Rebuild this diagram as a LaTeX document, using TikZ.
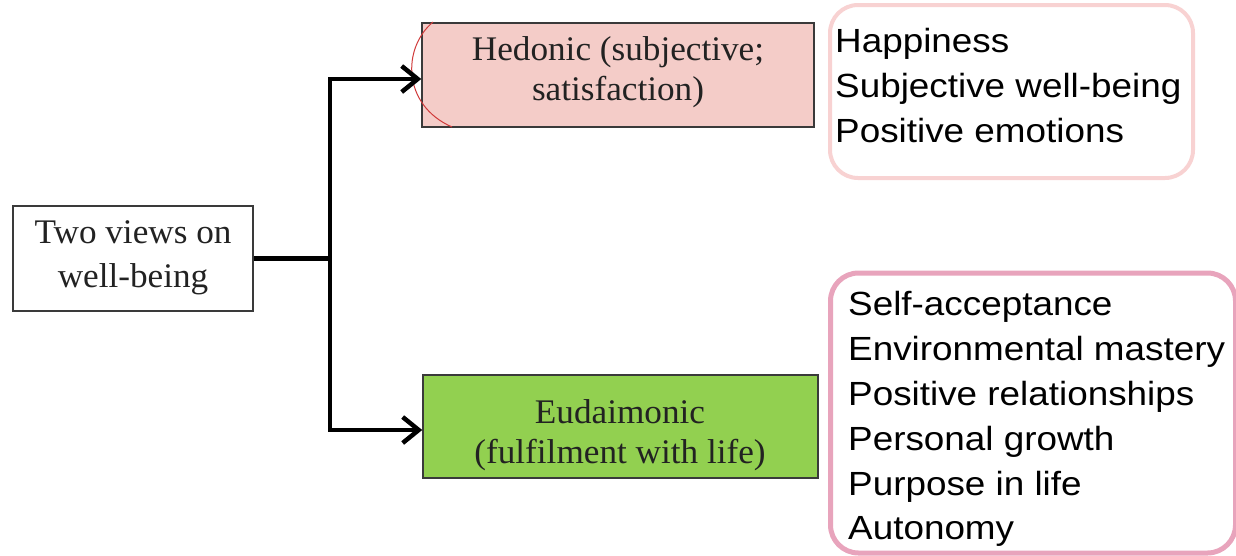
\documentclass[tikz,border=0pt]{standalone}
\usepackage{fontspec}
\setmainfont{Liberation Serif}
\newfontfamily\sansfnt[FakeStretch=1.1]{Liberation Sans}
\newfontfamily\seriffnt[FakeStretch=1.02]{Liberation Serif}
\usetikzlibrary{arrows.meta}
\definecolor{boxline}{HTML}{3A3A3A}
\definecolor{hedfill}{HTML}{F4CCC8}
\definecolor{eudfill}{HTML}{92D050}
\definecolor{pinklight}{HTML}{F8D2D2}
\definecolor{pinkdark}{HTML}{E8A4BC}
\definecolor{serifink}{HTML}{222222}
\definecolor{arcred}{HTML}{D03A3A}
\tikzset{
  sqbox/.style={draw=boxline, line width=1.5pt, inner sep=0pt},
  seriftext/.style={inner sep=0pt, align=center, text=serifink, font=\seriffnt\fontsize{34.5}{40}\selectfont},
  listtext/.style={inner sep=0pt, align=left, anchor=north west, font=\sansfnt\fontsize{33.5}{44.8}\selectfont},
  conn/.style={line width=4.5pt, black},
  arr/.style={conn, -{Straight Barb[length=16pt,width=26pt]}},
  listbox/.style={rounded corners=28pt, inner sep=0pt, fill=white}
}
\begin{document}
\begin{tikzpicture}[x=1pt,y=-1pt]
\useasboundingbox (0,0) rectangle (1236,555);
% boxes
\node[sqbox, fill=white, minimum width=240pt, minimum height=105pt] (two) at (133,258.5) {};
\node[sqbox, fill=hedfill, minimum width=392pt, minimum height=104pt] (hed) at (618,75) {};
\node[sqbox, fill=eudfill, minimum width=395pt, minimum height=103pt] (eud) at (620.5,426.5) {};
\node[listbox, draw=pinklight, line width=4pt, minimum width=363pt, minimum height=173pt] (hapbox) at (1011.5,91.5) {};
\node[listbox, draw=pinkdark, line width=5pt, minimum width=405pt, minimum height=280pt] (eudbox) at (1033,413) {};
% texts
\node[seriftext, anchor=north, font=\seriffnt\fontsize{34.5}{44}\selectfont] (twot) at (133,220) {Two views on\\well-being};
\node[seriftext, anchor=north] (hedt) at (618,36) {Hedonic (subjective;\\satisfaction)};
\node[seriftext, anchor=north] (eudt) at (620,399.5) {Eudaimonic\\(fulfilment with life)};
\node[listtext] (hapt) at (835,28) {Happiness\\Subjective well-being\\Positive emotions};
\node[listtext] (eudl) at (848,291.5) {Self-acceptance\\Environmental mastery\\Positive relationships\\Personal growth\\Purpose in life\\Autonomy};
% red arc
\draw[arcred, line width=1pt] (433,22) .. controls (402,48) and (402,105) .. (452,127);
% connectors
\coordinate (j) at (330,258.5);
\draw[conn] (two.east) -- (j);
\draw[arr] (j) |- ([yshift=-4pt]hed.west);
\draw[arr] (j) |- ([yshift=-3.5pt]eud.west);
\end{tikzpicture}
\end{document}
